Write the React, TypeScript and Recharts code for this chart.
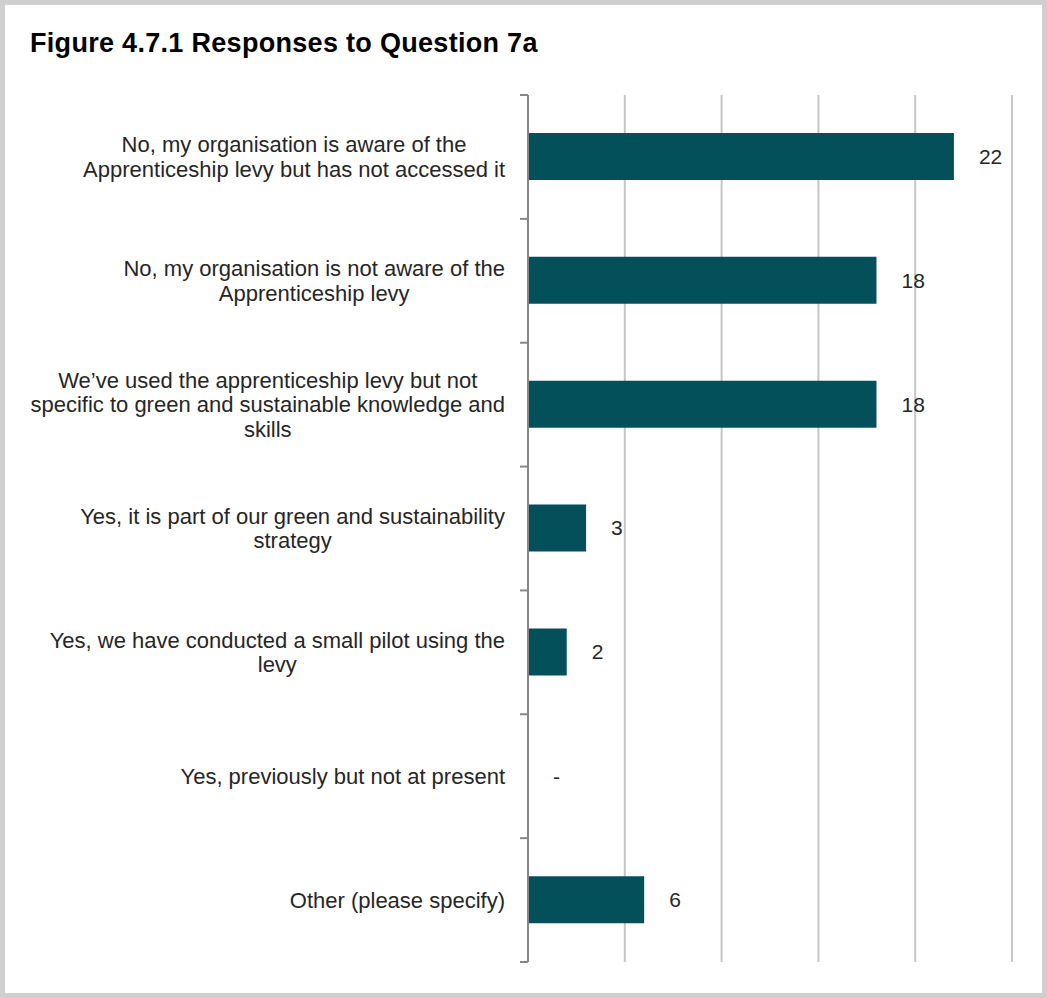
import React from 'react';
import { BarChart, Bar, XAxis, YAxis, CartesianGrid, LabelList } from 'recharts';

// answers, top to bottom, line breaks as in the figure
const categories = [
  'No, my organisation is aware of the\nApprenticeship levy but has not accessed it',
  'No, my organisation is not aware of the\nApprenticeship levy',
  'We\u2019ve used the apprenticeship levy but not\nspecific to green and sustainable knowledge and\nskills',
  'Yes, it is part of our green and sustainability\nstrategy',
  'Yes, we have conducted a small pilot using the\nlevy',
  'Yes, previously but not at present',
  'Other (please specify)',
];
const responses = [22, 18, 18, 3, 2, 0, 6];
const gridTicks = [0, 5, 10, 15, 20, 25];

const data = categories.map((label, i) => ({ label, count: responses[i] }));

const W = 1047;
const H = 998;
const MARGIN = { top: 95, right: 35, bottom: 36, left: 28 };
const BAND = (H - MARGIN.top - MARGIN.bottom) / categories.length;

const FONT = '"Liberation Sans", Arial, sans-serif';
const TEXT = '#262626';
const AXIS = '#868686';

let ctx: CanvasRenderingContext2D | null = null;
const textWidth = (s: string, font: string) => {
  if (!ctx) ctx = document.createElement('canvas').getContext('2d');
  if (!ctx) return s.length * 10;
  ctx.font = font;
  return ctx.measureText(s).width;
};

// lines centred on each other, block right-aligned against the axis,
// plus the small tick marks that sit on the category boundaries
const AnswerTick = (props: any) => {
  const { x, y, payload, index } = props;
  const lines: string[] = String(payload.value).split('\n');
  const size = 22;
  const lh = 24.5;
  const maxW = Math.max(...lines.map((l) => textWidth(l, `${size}px "Liberation Sans"`)));
  const cx = x - 23 - maxW / 2;
  const last = index === categories.length - 1;
  return (
    <g>
      <line x1={x - 8} x2={x} y1={y - BAND / 2} y2={y - BAND / 2} stroke={AXIS} strokeWidth={2} />
      {last && <line x1={x - 8} x2={x} y1={y + BAND / 2} y2={y + BAND / 2} stroke={AXIS} strokeWidth={2} />}
      {lines.map((l, i) => (
        <text
          key={i}
          x={cx}
          y={y + (i - (lines.length - 1) / 2) * lh}
          dy="0.35em"
          textAnchor="middle"
          fill={TEXT}
          fontSize={size}
          fontFamily={FONT}
        >
          {l}
        </text>
      ))}
      {/* zero-length bars get no label from recharts, Excel shows a dash */}
      {responses[index] === 0 && (
        <text x={x + 25} y={y} dy="0.35em" fill={TEXT} fontSize={21} fontFamily={FONT}>
          -
        </text>
      )}
    </g>
  );
};

const ValueLabel = (props: any) => {
  const { x, y, width, height, value } = props;
  return (
    <text x={x + width + 25} y={y + height / 2} dy="0.35em" fill={TEXT} fontSize={21} fontFamily={FONT}>
      {value === 0 ? '-' : value}
    </text>
  );
};

export default function App() {
  return (
    <div style={{ position: 'absolute', left: 0, top: 0, width: W, height: H, background: '#fff' }}>
      <div
        style={{
          position: 'absolute',
          left: 30,
          top: 30,
          fontFamily: FONT,
          fontWeight: 700,
          fontSize: 27,
          lineHeight: '27px',
          letterSpacing: 0.3,
          color: '#000',
          whiteSpace: 'nowrap',
        }}
      >
        Figure 4.7.1 Responses to Question 7a
      </div>
      <BarChart
        width={W}
        height={H}
        data={data}
        layout="vertical"
        margin={MARGIN}
        style={{ position: 'absolute', left: 0, top: 0 }}
      >
        <CartesianGrid horizontal={false} stroke="#c6c6c6" strokeWidth={2} />
        <XAxis type="number" domain={[0, 25]} ticks={gridTicks} hide />
        <YAxis
          type="category"
          dataKey="label"
          width={500}
          interval={0}
          axisLine={{ stroke: AXIS, strokeWidth: 2 }}
          tickLine={false}
          tickSize={0}
          tickMargin={0}
          tick={<AnswerTick />}
        />
        <Bar dataKey="count" fill="#034f5a" barSize={47} isAnimationActive={false}>
          <LabelList dataKey="count" content={<ValueLabel />} />
        </Bar>
      </BarChart>
      <div
        style={{
          position: 'absolute',
          left: 0,
          top: 0,
          width: W,
          height: H,
          boxSizing: 'border-box',
          border: '5px solid #cfcfcf',
          pointerEvents: 'none',
        }}
      />
    </div>
  );
}
